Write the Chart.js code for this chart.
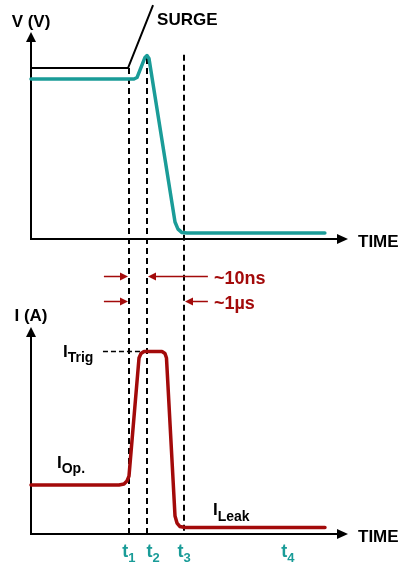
<!DOCTYPE html>
<html>
<head>
<meta charset="utf-8">
<script src="https://cdn.jsdelivr.net/npm/chart.js@4.4.1/dist/chart.umd.min.js"></script>
<style>
  html, body { margin: 0; padding: 0; background: #fff; }
</style>
</head>
<body>
<canvas id="surge" width="403" height="562"></canvas>
<script>
// time in arbitrary units: 0 = origin, 100 = arrow tip of the TIME axis
const surgeT = [0, 30.6, 38.5];
const surgeV = [82.6, 82.6, 113];
const voltT = [0, 32.49, 33.44, 35.96, 36.59, 37.22, 45.43, 46.37, 47.63, 49.21, 92.7];
const voltV = [77.3, 77.3, 78.0, 87.7, 88.65, 87.2, 8.2, 4.8, 3.1, 2.9, 2.9];
const currT = [0, 27.76, 29.34, 30.28, 30.91, 34.07, 34.7, 35.65, 41.32, 42.27, 42.74, 45.43, 46.06, 47.0, 48.58, 92.74];
const currI = [23.67, 23.67, 24.15, 25.6, 28.0, 85.0, 87.2, 88.16, 88.16, 87.2, 85.0, 8.7, 5.3, 3.6, 3.14, 3.14];

const markerT = [30.9, 36.6, 48.3];      // t1, t2, t3 dashed lines
const markerTopV = [82.6, 87.5, 89.0];   // where each dashed line starts (V panel)
const tickNames = ['1', '2', '3', '4'];
const tickT = [30.9, 38.5, 48.3, 81.0];
const iTrig = 88.16;
const spanLabels = ['~10ns', '~1\u00b5s'];
const spanRowI = [124.6, 112.6];
const spanEndT = [36.6, 48.3];

const teal = '#1a9c98';
const red = '#a30a0a';
const font = "'Liberation Sans', Arial, sans-serif";

function pts(xs, ys) { return xs.map((x, i) => ({ x: x, y: ys[i] })); }

function arrowHead(ctx, x, y, dir, len, half) {
  ctx.beginPath();
  if (dir === 'up') { ctx.moveTo(x, y); ctx.lineTo(x - half, y + len); ctx.lineTo(x + half, y + len); }
  if (dir === 'right') { ctx.moveTo(x, y); ctx.lineTo(x - len, y - half); ctx.lineTo(x - len, y + half); }
  if (dir === 'left') { ctx.moveTo(x, y); ctx.lineTo(x + len, y - half); ctx.lineTo(x + len, y + half); }
  ctx.closePath();
  ctx.fill();
}

function subLabel(ctx, main, sub, x, y, color, size, subSize, weight) {
  ctx.fillStyle = color;
  ctx.textAlign = 'left';
  ctx.textBaseline = 'alphabetic';
  ctx.font = weight + ' ' + size + 'px ' + font;
  ctx.fillText(main, x, y);
  const w = ctx.measureText(main).width;
  ctx.font = weight + ' ' + subSize + 'px ' + font;
  ctx.fillText(sub, x + w, y + size * 0.3);
  return w + ctx.measureText(sub).width;
}

const decor = {
  id: 'decor',
  beforeDatasetsDraw(chart) {
    const ctx = chart.ctx;
    const sx = chart.scales.x, yV = chart.scales.yV, yI = chart.scales.yI;
    const x0 = Math.round(sx.getPixelForValue(0)), xEnd = sx.getPixelForValue(100);
    ctx.save();
    ctx.strokeStyle = '#000';
    ctx.fillStyle = '#000';
    ctx.lineWidth = 2;
    // axes for both panels
    [yV, yI].forEach((ys) => {
      const yb = Math.round(ys.getPixelForValue(0)), yt = ys.getPixelForValue(100);
      ctx.beginPath();
      ctx.moveTo(x0, yb + 1); ctx.lineTo(x0, yt + 6);
      ctx.moveTo(x0, yb); ctx.lineTo(xEnd - 6, yb);
      ctx.stroke();
      arrowHead(ctx, x0, yt, 'up', 10, 5);
      arrowHead(ctx, xEnd, yb, 'right', 11, 5);
    });
    // dashed time markers through both panels
    ctx.setLineDash([6, 4]);
    ctx.lineWidth = 2;
    markerT.forEach((t, i) => {
      const x = Math.round(sx.getPixelForValue(t));
      ctx.beginPath();
      ctx.moveTo(x, yV.getPixelForValue(markerTopV[i]));
      ctx.lineTo(x, yI.getPixelForValue(0) + 1);
      ctx.stroke();
    });
    // I_Trig level
    ctx.setLineDash([5, 3]);
    ctx.lineWidth = 1.5;
    const yT = Math.round(yI.getPixelForValue(iTrig)) - 0.5;
    ctx.beginPath();
    ctx.moveTo(sx.getPixelForValue(22.7), yT);
    ctx.lineTo(sx.getPixelForValue(markerT[1]), yT);
    ctx.stroke();
    ctx.restore();
  },
  afterDraw(chart) {
    const ctx = chart.ctx;
    const sx = chart.scales.x, yV = chart.scales.yV, yI = chart.scales.yI;
    const x0 = sx.getPixelForValue(0), xEnd = sx.getPixelForValue(100);
    ctx.save();
    ctx.fillStyle = '#000';
    ctx.font = 'bold 17px ' + font;
    ctx.textBaseline = 'alphabetic';
    ctx.textAlign = 'center';
    ctx.fillText('V (V)', x0, yV.getPixelForValue(100) - 5);
    ctx.fillText('I (A)', x0, yI.getPixelForValue(100) - 6);
    ctx.textAlign = 'left';
    ctx.fillText('TIME', xEnd + 10, yV.getPixelForValue(0) + 8);
    ctx.fillText('TIME', xEnd + 10, yI.getPixelForValue(0) + 8);
    ctx.fillText('SURGE', sx.getPixelForValue(surgeT[2]) + 4, yV.getPixelForValue(surgeV[2]) + 20);

    // current level labels
    subLabel(ctx, 'I', 'Trig', 63, yI.getPixelForValue(iTrig) + 5, '#000', 17, 14, 'bold');
    subLabel(ctx, 'I', 'Op.', 57, yI.getPixelForValue(currI[0]) - 17, '#000', 17, 14, 'bold');
    subLabel(ctx, 'I', 'Leak', sx.getPixelForValue(57.4), yI.getPixelForValue(currI[currI.length - 1]) - 12, '#000', 17, 14, 'bold');

    // time tick labels
    tickNames.forEach((n, i) => {
      ctx.font = 'bold 18px ' + font;
      const w1 = ctx.measureText('t').width;
      ctx.font = 'bold 13px ' + font;
      const w2 = ctx.measureText(n).width;
      const left = sx.getPixelForValue(tickT[i]) - (w1 + w2) / 2;
      subLabel(ctx, 't', n, left, yI.getPixelForValue(0) + 23, teal, 18, 13, 'bold');
    });

    // duration arrows
    ctx.strokeStyle = red;
    ctx.fillStyle = red;
    ctx.lineWidth = 1.5;
    const xt1 = Math.round(sx.getPixelForValue(markerT[0]));
    const xTail = sx.getPixelForValue(55.8);
    const xLeft = sx.getPixelForValue(23.0);
    spanRowI.forEach((lvl, i) => {
      const y = Math.round(yI.getPixelForValue(lvl)) + 0.5;
      const xe = Math.round(sx.getPixelForValue(spanEndT[i]));
      ctx.beginPath();
      ctx.moveTo(xLeft, y); ctx.lineTo(xt1 - 5, y);
      ctx.moveTo(xTail, y); ctx.lineTo(xe + 5, y);
      ctx.stroke();
      arrowHead(ctx, xt1 - 1, y, 'right', 8, 4);
      arrowHead(ctx, xe + 1, y, 'left', 8, 4);
      ctx.font = 'bold 18px ' + font;
      ctx.textAlign = 'left';
      ctx.fillText(spanLabels[i], xTail + 6, y + 7);
    });
    ctx.restore();
  }
};

new Chart(document.getElementById('surge'), {
  type: 'line',
  data: {
    datasets: [
      { data: pts(surgeT, surgeV), yAxisID: 'yV', borderColor: '#000', borderWidth: 2, pointRadius: 0, tension: 0 },
      { data: pts(voltT, voltV), yAxisID: 'yV', borderColor: teal, borderWidth: 3.5, pointRadius: 0, tension: 0, borderCapStyle: 'round', borderJoinStyle: 'round' },
      { data: pts(currT, currI), yAxisID: 'yI', borderColor: red, borderWidth: 3.5, pointRadius: 0, tension: 0, borderCapStyle: 'round', borderJoinStyle: 'round' }
    ]
  },
  options: {
    responsive: false,
    animation: false,
    layout: { padding: 0 },
    plugins: { legend: { display: false }, tooltip: { enabled: false } },
    scales: {
      x: { type: 'linear', min: -9.779, max: 117.35, display: false },
      yV: { type: 'linear', min: -156.039, max: 115.459, display: false },
      yI: { type: 'linear', min: -13.527, max: 257.971, display: false }
    }
  },
  plugins: [decor]
});
</script>
</body>
</html>
